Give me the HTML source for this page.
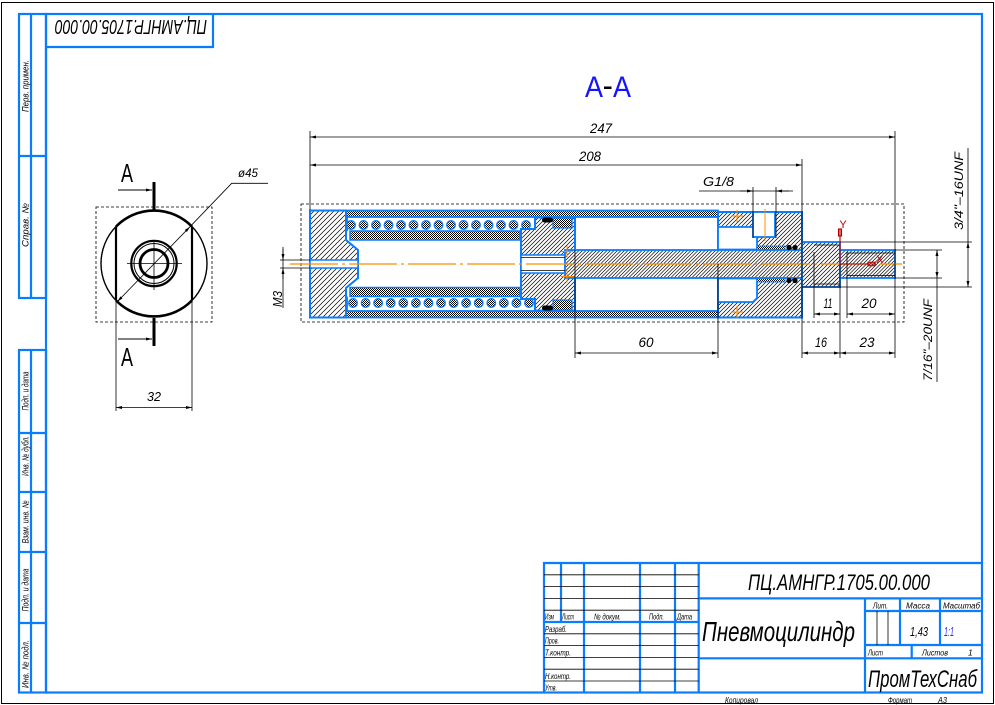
<!DOCTYPE html>
<html><head><meta charset="utf-8">
<style>
html,body{margin:0;padding:0;background:#fff;}
svg{display:block;}
text{font-family:"Liberation Sans","DejaVu Sans",sans-serif;fill:#000;}
.i{font-style:italic;}
</style></head><body>
<svg width="995" height="705" viewBox="0 0 995 705" xmlns="http://www.w3.org/2000/svg">
<defs>
<pattern id="h5" patternUnits="userSpaceOnUse" width="5" height="5"><rect width="5" height="5" fill="#fff"/><path d="M0,5 L5,0 M-1,1 L1,-1 M4,6 L6,4" stroke="#000" stroke-width="0.7"/></pattern>
<pattern id="h4" patternUnits="userSpaceOnUse" width="4" height="4"><rect width="4" height="4" fill="#fff"/><path d="M0,4 L4,0 M-1,1 L1,-1 M3,5 L5,3" stroke="#000" stroke-width="0.7"/></pattern>
<pattern id="h35" patternUnits="userSpaceOnUse" width="3.5" height="3.5"><rect width="3.5" height="3.5" fill="#fff"/><path d="M0,3.5 L3.5,0 M-1,1 L1,-1 M2.5,4.5 L4.5,2.5" stroke="#000" stroke-width="0.65"/></pattern>
<pattern id="dn" patternUnits="userSpaceOnUse" width="2" height="2"><rect width="2" height="2" fill="#fff"/><rect width="1" height="1" fill="#000"/><rect x="1" y="1" width="1" height="1" fill="#000"/></pattern>
<marker id="ar" viewBox="0 0 8 4" refX="8" refY="2" markerWidth="8" markerHeight="3" markerUnits="userSpaceOnUse" orient="auto-start-reverse"><path d="M0,0L8,2L0,4z" fill="#000"/></marker>
</defs>

<!-- outer border -->
<rect x="1.5" y="2.5" width="992" height="701" fill="none" stroke="#000" stroke-width="1"/>

<g stroke="#0a7dff" stroke-width="2.2" fill="none">
  <rect x="46" y="14" width="936" height="678.5"/>
  <!-- upper left strip -->
  <rect x="19" y="14" width="27" height="284"/>
  <line x1="31" y1="14" x2="31" y2="298"/>
  <line x1="19" y1="156" x2="46" y2="156"/>
  <!-- lower left strip -->
  <rect x="19" y="350" width="27" height="342.5"/>
  <line x1="31" y1="350" x2="31" y2="692.5"/>
  <line x1="19" y1="433" x2="46" y2="433"/>
  <line x1="19" y1="492" x2="46" y2="492"/>
  <line x1="19" y1="552" x2="46" y2="552"/>
  <line x1="19" y1="623" x2="46" y2="623"/>
  <!-- top stamp -->
  <path d="M46,47 H213 V14"/>
  <!-- title block -->
  <path d="M544,692.5 V563 H982"/>
  <line x1="561" y1="563" x2="561" y2="622"/>
  <line x1="584" y1="563" x2="584" y2="692.5"/>
  <line x1="640" y1="563" x2="640" y2="692.5"/>
  <line x1="675" y1="563" x2="675" y2="692.5"/>
  <line x1="698.7" y1="563" x2="698.7" y2="692.5"/>
  <line x1="544" y1="622" x2="698.7" y2="622"/>
  <line x1="698.7" y1="598.4" x2="982" y2="598.4"/>
  <line x1="698.7" y1="658.3" x2="982" y2="658.3"/>
  <line x1="865" y1="598.4" x2="865" y2="692.5"/>
  <line x1="865" y1="611" x2="982" y2="611"/>
  <line x1="865" y1="645" x2="982" y2="645"/>
  <line x1="900" y1="598.4" x2="900" y2="645"/>
  <line x1="940" y1="598.4" x2="940" y2="645"/>
  <line x1="911.7" y1="645" x2="911.7" y2="658.3"/>
</g>
<g stroke="#000" stroke-width="0.8">
  <line x1="544" y1="574.8" x2="698.7" y2="574.8"/>
  <line x1="544" y1="586.6" x2="698.7" y2="586.6"/>
  <line x1="544" y1="598.4" x2="698.7" y2="598.4"/>
  <line x1="544" y1="610.2" x2="698.7" y2="610.2"/>
  <line x1="544" y1="633.8" x2="698.7" y2="633.8"/>
  <line x1="544" y1="645.6" x2="698.7" y2="645.6"/>
  <line x1="544" y1="657.4" x2="698.7" y2="657.4"/>
  <line x1="544" y1="669.2" x2="698.7" y2="669.2"/>
  <line x1="544" y1="681" x2="698.7" y2="681"/>
  <line x1="877" y1="611" x2="877" y2="645"/>
  <line x1="888" y1="611" x2="888" y2="645"/>
</g>

<!-- strip texts -->
<g class="i" font-size="9" text-anchor="middle">
  <text transform="translate(28.5,86) rotate(-90)" textLength="52" lengthAdjust="spacingAndGlyphs">Перв. примен.</text>
  <text transform="translate(28.5,225) rotate(-90)" textLength="44" lengthAdjust="spacingAndGlyphs">Справ. №</text>
  <text transform="translate(28.5,391) rotate(-90)" textLength="39" lengthAdjust="spacingAndGlyphs">Подп. и дата</text>
  <text transform="translate(28.5,456) rotate(-90)" textLength="40" lengthAdjust="spacingAndGlyphs">Инв. № дубл.</text>
  <text transform="translate(28.5,522) rotate(-90)" textLength="43" lengthAdjust="spacingAndGlyphs">Взам. инв. №</text>
  <text transform="translate(28.5,590) rotate(-90)" textLength="43" lengthAdjust="spacingAndGlyphs">Подп. и дата</text>
  <text transform="translate(28.5,664) rotate(-90)" textLength="48" lengthAdjust="spacingAndGlyphs">Инв. № подл.</text>
</g>
<text class="i" font-size="20" text-anchor="middle" x="131" y="41" transform="rotate(180 131 30.5)" textLength="152" lengthAdjust="spacingAndGlyphs">ПЦ.АМНГР.1705.00.000</text>

<!-- title block texts -->
<text class="i" font-size="22" x="748" y="590" textLength="182" lengthAdjust="spacingAndGlyphs">ПЦ.АМНГР.1705.00.000</text>
<text class="i" font-size="28" x="702" y="641" textLength="153" lengthAdjust="spacingAndGlyphs">Пневмоцилиндр</text>
<text class="i" font-size="24" x="868" y="687" textLength="109" lengthAdjust="spacingAndGlyphs">ПромТехСнаб</text>
<g class="i" font-size="8.5">
  <text x="873" y="608.5" textLength="15" lengthAdjust="spacingAndGlyphs">Лит.</text>
  <text x="906" y="608.5" textLength="24" lengthAdjust="spacingAndGlyphs">Масса</text>
  <text x="943" y="608.5" textLength="37" lengthAdjust="spacingAndGlyphs">Масштаб</text>
  <text x="868" y="655.5" textLength="15" lengthAdjust="spacingAndGlyphs">Лист</text>
  <text x="922" y="655.5" textLength="26" lengthAdjust="spacingAndGlyphs">Листов</text>
  <text x="968" y="655.5">1</text>
  <text x="545" y="619.5" textLength="9" lengthAdjust="spacingAndGlyphs">Изм</text>
  <text x="562" y="619.5" textLength="12" lengthAdjust="spacingAndGlyphs">Лист</text>
  <text x="594" y="619.5" textLength="27" lengthAdjust="spacingAndGlyphs">№ докум.</text>
  <text x="649" y="619.5" textLength="15" lengthAdjust="spacingAndGlyphs">Подп.</text>
  <text x="677" y="619.5" textLength="15" lengthAdjust="spacingAndGlyphs">Дата</text>
  <text x="545" y="632" textLength="22" lengthAdjust="spacingAndGlyphs">Разраб.</text>
  <text x="545" y="643.5" textLength="14" lengthAdjust="spacingAndGlyphs">Пров.</text>
  <text x="545" y="655.5" textLength="26" lengthAdjust="spacingAndGlyphs">Т.контр.</text>
  <text x="545" y="679" textLength="26" lengthAdjust="spacingAndGlyphs">Н.контр.</text>
  <text x="545" y="690.5" textLength="12" lengthAdjust="spacingAndGlyphs">Утв.</text>
  <text x="725" y="703" textLength="33" lengthAdjust="spacingAndGlyphs">Копировал</text>
  <text x="888" y="703" textLength="24" lengthAdjust="spacingAndGlyphs">Формат</text>
  <text x="938" y="703" textLength="9" lengthAdjust="spacingAndGlyphs">А3</text>
</g>
<text class="i" font-size="13" x="910" y="636" textLength="18" lengthAdjust="spacingAndGlyphs">1,43</text>
<text class="i" font-size="13" x="944" y="636" textLength="10" lengthAdjust="spacingAndGlyphs" style="fill:#2a2aff">1:1</text>

<!-- A-A title -->
<text font-size="30" x="585" y="97" textLength="18" lengthAdjust="spacingAndGlyphs" style="fill:#1414ff">А</text>
<rect x="604" y="86.5" width="7.5" height="2.5" fill="#000"/>
<text font-size="30" x="613" y="97" textLength="18" lengthAdjust="spacingAndGlyphs" style="fill:#1414ff">А</text>

<!-- ===== circle view ===== -->
<rect x="96" y="207" width="116" height="115" fill="none" stroke="#000" stroke-width="0.8" stroke-dasharray="3,2"/>
<g fill="none" stroke="#000">
  <circle cx="154" cy="263.5" r="53" stroke-width="1.4"/>
  <path d="M116,226.6 A53,53 0 0 1 192,226.6" stroke-width="2.6"/>
  <path d="M192,300.4 A53,53 0 0 1 116,300.4" stroke-width="2.6"/>
  <line x1="116" y1="226.6" x2="116" y2="300.4" stroke-width="2.2"/>
  <line x1="192" y1="226.6" x2="192" y2="300.4" stroke-width="2.2"/>
  <circle cx="154" cy="263.5" r="22.7" stroke-width="2.2"/>
  <circle cx="154" cy="263.5" r="20" stroke-width="1"/>
  <circle cx="154" cy="263.5" r="14" stroke-width="2.8"/>
  <line x1="127" y1="263.5" x2="182" y2="263.5" stroke-width="0.8"/>
  <line x1="154" y1="240" x2="154" y2="290" stroke-width="0.8"/>
  <line x1="154" y1="182" x2="154" y2="211" stroke-width="3"/>
  <line x1="154" y1="318" x2="154" y2="346" stroke-width="3"/>
  <line x1="118" y1="190" x2="152" y2="190" stroke-width="0.9" marker-end="url(#ar)"/>
  <line x1="118" y1="339" x2="152" y2="339" stroke-width="0.9" marker-end="url(#ar)"/>
  <line x1="117.3" y1="301.7" x2="190" y2="226.7" stroke-width="0.8" marker-start="url(#ar)" marker-end="url(#ar)"/>
  <polyline points="190,226.7 231.7,183.3 268,183.3" stroke-width="0.8"/>
  <line x1="116" y1="302" x2="116" y2="411" stroke-width="0.8"/>
  <line x1="192" y1="302" x2="192" y2="411" stroke-width="0.8"/>
  <line x1="116" y1="407.5" x2="192" y2="407.5" stroke-width="0.8" marker-start="url(#ar)" marker-end="url(#ar)"/>
</g>
<text font-size="26" x="121" y="182" textLength="12" lengthAdjust="spacingAndGlyphs">А</text>
<text font-size="26" x="121" y="366" textLength="12" lengthAdjust="spacingAndGlyphs">А</text>
<text class="i" font-size="12" x="238" y="177" textLength="20" lengthAdjust="spacingAndGlyphs">ø45</text>
<text class="i" font-size="13" x="154" y="401" text-anchor="middle" textLength="14" lengthAdjust="spacingAndGlyphs">32</text>

<!-- ===== section A-A ===== -->
<rect x="301" y="204" width="603" height="118" fill="none" stroke="#000" stroke-width="0.8" stroke-dasharray="3,2"/>

<g stroke="#0a7dff">
  <!-- tube -->
  <rect x="346" y="210.5" width="372" height="6.5" fill="url(#dn)" stroke-width="1.8"/>
  <rect x="346" y="311" width="372" height="6.5" fill="url(#dn)" stroke-width="1.8"/>
  <!-- left cap -->
  <path d="M310,210.5 H346 V240 L358,250 V278 L346,288 V317.5 H310 Z" fill="url(#h5)" stroke-width="2"/>
  <rect x="310" y="260" width="48" height="8" fill="#fff" stroke-width="1.5"/>
  <!-- sleeves -->
  <rect x="350" y="231" width="170" height="9" fill="url(#dn)" stroke-width="1.5"/>
  <rect x="350" y="287.5" width="170" height="9" fill="url(#dn)" stroke-width="1.5"/>
  <path d="M347,217 V231 M347,296.5 V311" fill="none" stroke-width="1.8"/>
  <!-- spring circles -->
  <g fill="url(#dn)" stroke-width="1.3">
    <circle cx="351" cy="225" r="4.3"/><circle cx="363.5" cy="225" r="4.3"/><circle cx="376" cy="225" r="4.3"/><circle cx="388.5" cy="225" r="4.3"/><circle cx="401" cy="225" r="4.3"/><circle cx="413.5" cy="225" r="4.3"/><circle cx="426" cy="225" r="4.3"/><circle cx="438.5" cy="225" r="4.3"/><circle cx="451" cy="225" r="4.3"/><circle cx="463.5" cy="225" r="4.3"/><circle cx="476" cy="225" r="4.3"/><circle cx="488.5" cy="225" r="4.3"/><circle cx="501" cy="225" r="4.3"/><circle cx="513.5" cy="225" r="4.3"/><circle cx="526" cy="225" r="4.3"/>
    <circle cx="353" cy="303" r="4.3"/><circle cx="365.6" cy="303" r="4.3"/><circle cx="378.1" cy="303" r="4.3"/><circle cx="390.7" cy="303" r="4.3"/><circle cx="403.3" cy="303" r="4.3"/><circle cx="415.9" cy="303" r="4.3"/><circle cx="428.4" cy="303" r="4.3"/><circle cx="441" cy="303" r="4.3"/><circle cx="453.6" cy="303" r="4.3"/><circle cx="466.1" cy="303" r="4.3"/><circle cx="478.7" cy="303" r="4.3"/><circle cx="491.3" cy="303" r="4.3"/><circle cx="503.8" cy="303" r="4.3"/><circle cx="516.4" cy="303" r="4.3"/><circle cx="529" cy="303" r="4.3"/>
  </g>
  <!-- piston -->
  <path d="M521,229 H535 V217.5 H575 V310.5 H535 V299 H521 Z" fill="url(#h4)" stroke-width="2"/>
  <rect x="553" y="218" width="19" height="10" fill="url(#dn)" stroke-width="1.2"/>
  <rect x="553" y="300" width="19" height="10" fill="url(#dn)" stroke-width="1.2"/>
  <rect x="521" y="255" width="44" height="18" fill="#fff" stroke-width="1.5"/>
  <!-- right cap -->
  <path d="M718,212 H802 V317.5 H718 Z" fill="url(#h4)" stroke-width="2"/>
  <path d="M718,227 H753 L757,231 V249.5 H718 Z" fill="#fff" stroke-width="1.8"/>
  <rect x="753" y="212" width="22" height="25" fill="#fff" stroke-width="1.8"/>
  <path d="M718,278.5 H757 V298 L753,302 H718 Z" fill="#fff" stroke-width="1.8"/>
  <!-- rod -->
  <rect x="565" y="250" width="237" height="28" fill="url(#h35)" stroke-width="1.8"/>
  <rect x="757" y="246" width="28" height="3.5" fill="url(#dn)" stroke-width="0.8"/>
  <rect x="757" y="278.5" width="28" height="3.5" fill="url(#dn)" stroke-width="0.8"/>
  <rect x="802" y="242" width="38" height="45" fill="url(#h4)" stroke-width="1.8"/>
  <rect x="840" y="250" width="55" height="28" fill="url(#h35)" stroke-width="1.8"/>
</g>
<!-- seals -->
<g fill="#000">
  <rect x="542" y="217.5" width="11" height="5" rx="2.5"/>
  <rect x="542" y="305.5" width="11" height="5" rx="2.5"/>
  <circle cx="789" cy="247.5" r="2.6"/><circle cx="795" cy="247.5" r="2.6"/>
  <circle cx="789" cy="280.5" r="2.6"/><circle cx="795" cy="280.5" r="2.6"/>
</g>
<g stroke="#000" stroke-width="0.8">
  <line x1="521" y1="257.5" x2="565" y2="257.5"/>
  <line x1="521" y1="270.5" x2="565" y2="270.5"/>
  <line x1="814" y1="245" x2="840" y2="245"/>
  <line x1="814" y1="284" x2="840" y2="284"/>
  <line x1="847" y1="253" x2="895" y2="253"/>
  <line x1="847" y1="275.5" x2="895" y2="275.5"/>
</g>

<!-- center line & markers -->
<line x1="290" y1="264" x2="902" y2="264" stroke="#ff8c00" stroke-width="1.3" stroke-dasharray="48,4,3,4"/>
<g stroke="#ff8c00" stroke-width="1">
  <path d="M561,251.5 H573 M567,245.5 V257.5"/>
  <path d="M561,276.5 H573 M567,270.5 V282.5"/>
  <path d="M731,216 H743 M737,210 V222"/>
  <path d="M731,312 H743 M737,306 V318"/>
  <line x1="765" y1="209" x2="765" y2="241"/>
</g>

<!-- dimensions -->
<g stroke="#000" stroke-width="0.8" fill="none">
  <line x1="310" y1="131" x2="310" y2="210"/>
  <line x1="895" y1="131" x2="895" y2="358"/>
  <line x1="802" y1="159" x2="802" y2="358"/>
  <line x1="575" y1="250" x2="575" y2="358"/>
  <line x1="718" y1="264" x2="718" y2="358"/>
  <line x1="840" y1="242" x2="840" y2="358"/>
  <line x1="814" y1="252" x2="814" y2="318"/>
  <line x1="847" y1="252" x2="847" y2="318"/>
  <line x1="753" y1="187" x2="753" y2="238"/>
  <line x1="776" y1="187" x2="776" y2="238"/>
  <line x1="840" y1="242" x2="972" y2="242"/>
  <line x1="802" y1="287" x2="972" y2="287"/>
  <line x1="895" y1="250" x2="942" y2="250"/>
  <line x1="895" y1="278" x2="942" y2="278"/>
  <line x1="280" y1="260" x2="310" y2="260"/>
  <line x1="280" y1="268" x2="310" y2="268"/>

  <line x1="310" y1="137" x2="895" y2="137" marker-start="url(#ar)" marker-end="url(#ar)"/>
  <line x1="310" y1="165" x2="802" y2="165" marker-start="url(#ar)" marker-end="url(#ar)"/>
  <line x1="575" y1="353" x2="718" y2="353" marker-start="url(#ar)" marker-end="url(#ar)"/>
  <line x1="802" y1="353" x2="840" y2="353" marker-start="url(#ar)" marker-end="url(#ar)"/>
  <line x1="840" y1="353" x2="895" y2="353" marker-start="url(#ar)" marker-end="url(#ar)"/>
  <line x1="814" y1="314" x2="840" y2="314" marker-start="url(#ar)" marker-end="url(#ar)"/>
  <line x1="847" y1="314" x2="895" y2="314" marker-start="url(#ar)" marker-end="url(#ar)"/>
  <line x1="968" y1="242" x2="968" y2="287" marker-start="url(#ar)" marker-end="url(#ar)"/>
  <line x1="968" y1="148" x2="968" y2="242"/>
  <line x1="937" y1="250" x2="937" y2="278" marker-start="url(#ar)" marker-end="url(#ar)"/>
  <line x1="937" y1="278" x2="937" y2="382"/>
  <line x1="699" y1="191" x2="793" y2="191"/>
  <line x1="740" y1="191" x2="753" y2="191" marker-end="url(#ar)"/>
  <line x1="789" y1="191" x2="776" y2="191" marker-end="url(#ar)"/>
  <line x1="283" y1="247" x2="283" y2="308"/>
  <line x1="283" y1="249" x2="283" y2="260" marker-end="url(#ar)"/>
  <line x1="283" y1="279" x2="283" y2="268" marker-end="url(#ar)"/>
</g>
<g class="i" font-size="14" text-anchor="middle">
  <text x="601" y="133" textLength="22" lengthAdjust="spacingAndGlyphs">247</text>
  <text x="590" y="161" textLength="22" lengthAdjust="spacingAndGlyphs">208</text>
  <text x="646" y="347" textLength="15" lengthAdjust="spacingAndGlyphs">60</text>
  <text x="821" y="347" textLength="12" lengthAdjust="spacingAndGlyphs">16</text>
  <text x="867" y="347" textLength="15" lengthAdjust="spacingAndGlyphs">23</text>
  <text x="828" y="308" textLength="9" lengthAdjust="spacingAndGlyphs">11</text>
  <text x="869" y="308" textLength="15" lengthAdjust="spacingAndGlyphs">20</text>
  <text transform="translate(963,191) rotate(-90)" font-size="12" textLength="78" lengthAdjust="spacingAndGlyphs">3/4"–16UNF</text>
  <text transform="translate(932,340) rotate(-90)" font-size="12" textLength="82" lengthAdjust="spacingAndGlyphs">7/16"–20UNF</text>
  <text transform="translate(282,299) rotate(-90)" font-size="13" textLength="16" lengthAdjust="spacingAndGlyphs">M3</text>
</g>
<text class="i" font-size="13" x="703" y="186" textLength="31" lengthAdjust="spacingAndGlyphs">G1/8</text>

<!-- coordinate axes -->
<g stroke="#b40000" stroke-width="1.1" fill="none">
  <line x1="840" y1="229" x2="840" y2="264"/>
  <rect x="838.5" y="229" width="3" height="7"/>
  <line x1="840" y1="264" x2="876" y2="264"/>
  <rect x="868" y="262.3" width="7" height="3.4"/>
</g>
<text font-size="11" x="843" y="228" text-anchor="middle" style="fill:#b40000">Y</text>
<text font-size="11" x="876" y="263" style="fill:#b40000">X</text>
</svg>
</body></html>
